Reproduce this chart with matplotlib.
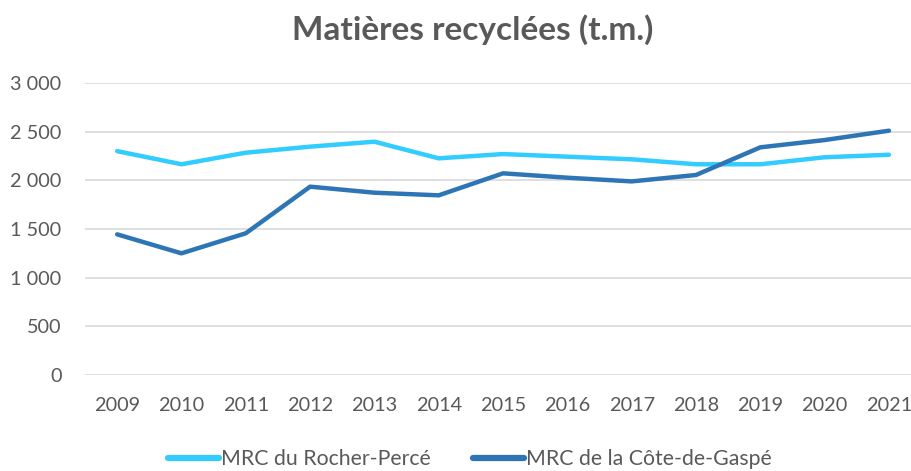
import numpy as np
import matplotlib.pyplot as plt
from matplotlib.ticker import FuncFormatter

# Data (tonnes métriques)
years = ["2009", "2010", "2011", "2012", "2013", "2014", "2015",
         "2016", "2017", "2018", "2019", "2020", "2021"]
rocher_perce = [2300, 2165, 2284, 2346, 2397, 2226, 2270,
                2243, 2216, 2165, 2165, 2237, 2263]
cote_gaspe = [1445, 1250, 1456, 1935, 1873, 1846, 2072,
              2027, 1989, 2055, 2339, 2414, 2510]

light_blue = "#33CCFF"
dark_blue = "#2E75B6"
text_gray = "#595959"
grid_gray = "#D9D9D9"

plt.rcParams['font.family'] = ['Lato', 'DejaVu Sans']

fig = plt.figure(figsize=(9.12, 4.71), dpi=100)
ax = fig.add_axes([85 / 912, 1 - 375 / 471, 1 - 85 / 912, (375 - 83) / 471])

x = np.arange(len(years))
ax.plot(x, rocher_perce, color=light_blue, linewidth=3.2,
        solid_capstyle='round', label="MRC du Rocher-Percé")
ax.plot(x, cote_gaspe, color=dark_blue, linewidth=3.2,
        solid_capstyle='round', label="MRC de la Côte-de-Gaspé")

ax.set_ylim(0, 3000)
ax.set_yticks(np.arange(0, 3001, 500))
ax.yaxis.set_major_formatter(FuncFormatter(lambda v, p: f"{int(v):,}".replace(",", " ")))
ax.set_xlim(-0.5, (912 - 117) / 64.33)
ax.set_xticks(x)
ax.set_xticklabels(years)

ax.grid(axis='y', color=grid_gray, linewidth=1.2)
ax.set_axisbelow(True)
for s in ax.spines.values():
    s.set_visible(False)
ax.tick_params(axis='both', length=0, labelsize=14.3, labelcolor=text_gray)
ax.tick_params(axis='y', pad=17)
ax.tick_params(axis='x', pad=16)

fig.text(0.518, 1 - 30 / 471, "Matières recyclées (t.m.)", ha='center', va='center',
         fontsize=24, fontweight='bold', color=text_gray)

leg = fig.legend(loc='center', bbox_to_anchor=(0.515, 1 - 459 / 471), ncol=2,
                 frameon=False, fontsize=15.3, handlelength=2.4, handletextpad=0.1,
                 columnspacing=2.0)
for t in leg.get_texts():
    t.set_color(text_gray)
for h in leg.get_lines():
    h.set_linewidth(4.5)

fig.savefig("out.png", dpi=100)
